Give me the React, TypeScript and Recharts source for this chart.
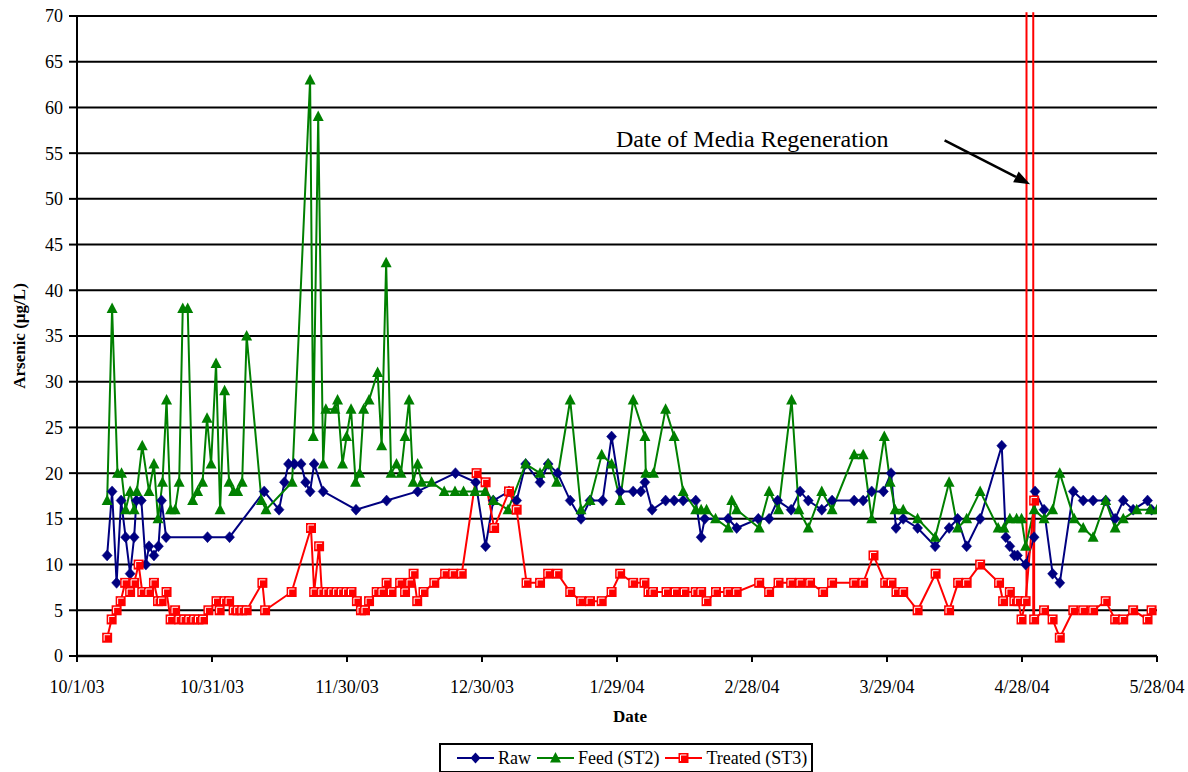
import React from 'react';
import { LineChart, Line, XAxis, YAxis, CartesianGrid, ReferenceLine } from 'recharts';

const tickDays = [0, 30, 60, 90, 120, 150, 180, 210, 240];
const tickLabels = ['10/1/03', '10/31/03', '11/30/03', '12/30/03', '1/29/04', '2/28/04', '3/29/04', '4/28/04', '5/28/04'];
const yTicks = [0, 5, 10, 15, 20, 25, 30, 35, 40, 45, 50, 55, 60, 65, 70];

const rawDays = [6.7, 7.8, 8.8, 9.8, 10.8, 11.8, 12.7, 13.2, 14.3, 15.3, 16.0, 17.1, 18.1, 18.8, 19.8, 29.0, 33.9, 41.6, 44.9, 46.1, 47.0, 48.3, 49.8, 50.8, 51.8, 52.7, 54.7, 62.0, 68.8, 75.7, 84.1, 88.6, 90.8, 92.5, 96.0, 97.7, 99.7, 102.9, 104.7, 106.8, 109.6, 112.0, 114.0, 116.8, 118.8, 120.7, 123.6, 125.3, 126.2, 127.8, 130.8, 132.7, 134.7, 137.5, 138.7, 139.5, 144.7, 146.6, 151.4, 153.8, 155.7, 158.7, 160.7, 162.5, 165.5, 167.8, 172.7, 174.7, 176.6, 179.2, 180.9, 182.0, 183.6, 186.8, 190.7, 193.8, 195.7, 197.7, 200.7, 205.5, 206.4, 207.3, 208.3, 209.0, 210.8, 212.7, 212.9, 214.9, 216.8, 218.4, 221.4, 223.6, 225.8, 228.6, 230.7, 232.5, 234.7, 237.9, 238.8];
const rawValues = [11, 18, 8, 17, 13, 9, 13, 17, 17, 10, 12, 11, 12, 17, 13, 13, 13, 18, 16, 19, 21, 21, 21, 19, 18, 21, 18, 16, 17, 18, 20, 19, 12, 17, 18, 17, 21, 19, 21, 20, 17, 15, 17, 17, 24, 18, 18, 18, 19, 16, 17, 17, 17, 17, 13, 15, 15, 14, 15, 15, 17, 16, 18, 17, 16, 17, 17, 17, 18, 18, 20, 14, 15, 14, 12, 14, 15, 12, 15, 23, 13, 12, 11, 11, 10, 13, 18, 16, 9, 8, 18, 17, 17, 17, 15, 17, 16, 17, 16];

const feedDays = [6.7, 7.8, 9.0, 9.9, 10.8, 11.8, 12.7, 13.3, 14.5, 16.0, 17.1, 18.0, 19.0, 19.9, 20.8, 21.8, 22.7, 23.5, 24.6, 25.7, 26.8, 27.9, 28.9, 29.8, 30.9, 31.8, 32.8, 33.8, 34.8, 35.7, 36.7, 37.7, 41.0, 42.0, 47.8, 51.8, 52.5, 53.6, 54.7, 55.3, 57.3, 57.9, 59.0, 59.9, 60.9, 61.9, 62.8, 63.7, 64.9, 66.8, 67.7, 68.7, 69.8, 71.0, 72.0, 72.9, 73.8, 74.7, 75.7, 76.6, 78.8, 81.6, 84.0, 85.9, 88.4, 90.7, 92.5, 95.8, 99.7, 102.9, 104.7, 106.6, 109.6, 112.0, 114.0, 116.6, 118.8, 120.7, 123.6, 126.2, 126.4, 128.1, 130.8, 132.7, 134.7, 137.5, 138.7, 139.9, 141.9, 144.7, 145.5, 146.6, 151.6, 153.8, 155.9, 158.8, 160.4, 162.5, 165.5, 167.8, 172.7, 174.7, 176.6, 179.4, 180.7, 181.8, 183.6, 186.8, 190.7, 193.8, 195.7, 197.7, 200.7, 204.7, 206.0, 207.3, 208.8, 209.9, 210.8, 212.7, 214.9, 216.8, 218.4, 221.6, 223.6, 225.8, 228.6, 230.7, 232.5, 235.5, 238.5, 240.0];
const feedValues = [17, 38, 20, 20, 16, 18, 16, 18, 23, 18, 21, 15, 19, 28, 16, 16, 19, 38, 38, 17, 18, 19, 26, 21, 32, 16, 29, 19, 18, 18, 19, 35, 17, 16, 19, 63, 24, 59, 21, 27, 27, 28, 21, 24, 27, 19, 20, 27, 28, 31, 23, 43, 20, 21, 20, 24, 28, 19, 21, 19, 19, 18, 18, 18, 18, 18, 17, 16, 21, 20, 21, 19, 28, 16, 17, 22, 21, 17, 28, 24, 20, 20, 27, 24, 18, 16, 16, 16, 15, 14, 17, 16, 14, 18, 16, 28, 16, 14, 18, 16, 22, 22, 15, 24, 19, 16, 16, 15, 13, 19, 14, 15, 18, 14, 14, 15, 15, 15, 12, 16, 15, 16, 20, 15, 14, 13, 17, 14, 15, 16, 16, 16];

const treatedDays = [6.7, 7.7, 8.8, 9.7, 10.7, 11.8, 12.7, 13.7, 14.5, 16.0, 17.1, 18.0, 18.8, 19.9, 20.8, 21.8, 22.7, 23.8, 24.9, 26.0, 27.0, 28.0, 29.2, 31.0, 31.7, 32.8, 33.8, 34.8, 35.7, 36.7, 37.7, 41.2, 41.8, 47.7, 52.0, 52.7, 53.8, 54.4, 55.5, 56.6, 57.7, 58.8, 59.9, 61.0, 62.2, 63.1, 64.0, 64.9, 66.6, 67.8, 68.8, 69.9, 71.8, 72.9, 74.0, 74.8, 75.6, 77.0, 79.4, 81.8, 83.6, 85.5, 88.8, 90.8, 92.7, 96.0, 97.7, 99.9, 102.9, 104.7, 106.8, 109.6, 112.0, 114.0, 116.6, 118.8, 120.7, 123.6, 126.1, 127.0, 128.0, 131.0, 133.0, 135.0, 137.5, 138.7, 139.9, 142.0, 144.7, 146.6, 151.6, 153.8, 155.9, 158.7, 160.7, 162.9, 165.8, 167.8, 172.7, 174.7, 177.0, 179.6, 181.0, 182.1, 183.6, 186.8, 190.8, 193.8, 195.8, 197.7, 200.7, 204.9, 205.8, 207.3, 208.3, 209.2, 209.9, 210.8, 212.7, 212.7, 214.9, 216.8, 218.4, 221.4, 223.6, 225.8, 228.6, 230.7, 232.5, 234.7, 237.9, 238.8];
const treatedValues = [2, 4, 5, 6, 8, 7, 8, 10, 7, 7, 8, 6, 6, 7, 4, 5, 4, 4, 4, 4, 4, 4, 5, 6, 5, 6, 6, 5, 5, 5, 5, 8, 5, 7, 14, 7, 12, 7, 7, 7, 7, 7, 7, 7, 6, 5, 5, 6, 7, 7, 8, 7, 8, 7, 8, 9, 6, 7, 8, 9, 9, 9, 20, 19, 14, 18, 16, 8, 8, 9, 9, 7, 6, 6, 6, 7, 9, 8, 8, 7, 7, 7, 7, 7, 7, 7, 6, 7, 7, 7, 8, 7, 8, 8, 8, 8, 7, 8, 8, 8, 11, 8, 8, 7, 7, 5, 9, 5, 8, 8, 10, 8, 6, 7, 6, 6, 4, 6, 17, 4, 5, 4, 2, 5, 5, 5, 6, 4, 4, 5, 4, 5];

const regenDays = [211.0, 212.5];
const regenBottom = [6, 4];
const regenTop = 70.4;
const arrowStart = { x: 192.8, y: 56.4 };
const arrowEnd = { x: 211.8, y: 51.6 };
const annotationText = 'Date of Media Regeneration';

const toSeries = (days: number[], vals: number[]) => days.map((d, i) => ({ d, v: vals[i] }));
const rawData = toSeries(rawDays, rawValues);
const feedData = toSeries(feedDays, feedValues);
const treatedData = toSeries(treatedDays, treatedValues);

const NAVY = '#000080';
const GREEN = '#008000';
const RED = '#FF0000';
const FONT = 'Liberation Serif';

const Diamond = (p: any) => {
  const { cx, cy } = p;
  if (cx == null || cy == null) return null;
  return <path key={`r${p.index}`} d={`M${cx},${cy - 5.5}L${cx + 5},${cy}L${cx},${cy + 5.5}L${cx - 5},${cy}Z`} fill={NAVY} stroke={NAVY} strokeWidth={0.5} />;
};
const Triangle = (p: any) => {
  const { cx, cy } = p;
  if (cx == null || cy == null) return null;
  return <path key={`f${p.index}`} d={`M${cx},${cy - 6}L${cx + 5.5},${cy + 4.5}L${cx - 5.5},${cy + 4.5}Z`} fill={GREEN} />;
};
const Square = (p: any) => {
  const { cx, cy } = p;
  if (cx == null || cy == null) return null;
  return (
    <g key={`t${p.index}`}>
      <rect x={cx - 5} y={cy - 5} width={10} height={10} fill={RED} />
      <path d={`M${cx - 3},${cy + 3}V${cy - 3}H${cx + 3}`} fill="none" stroke="#fff" strokeWidth={1} />
    </g>
  );
};

const ArrowShape = (p: any) => {
  const { x1, y1, x2, y2 } = p;
  if (x1 == null) return null;
  const dx = x2 - x1, dy = y2 - y1;
  const len = Math.sqrt(dx * dx + dy * dy);
  const ux = dx / len, uy = dy / len;
  const hl = 16, hw = 6;
  const bx = x2 - ux * hl, by = y2 - uy * hl;
  return (
    <g>
      <line x1={x1} y1={y1} x2={bx} y2={by} stroke="#000" strokeWidth={2.5} />
      <path d={`M${x2},${y2}L${bx - uy * hw},${by + ux * hw}L${bx + uy * hw},${by - ux * hw}Z`} fill="#000" />
      <text x={x1 - 56} y={y1 + 7} textAnchor="end" fontSize={24} fontFamily={FONT} fill="#000" style={{ fontFamily: FONT }}>{annotationText}</text>
    </g>
  );
};

const XTick = (p: any) => {
  const { x, y, payload } = p;
  const label = tickLabels[tickDays.indexOf(payload.value)] ?? '';
  return (
    <text x={x} y={y} dy="0.71em" textAnchor="middle" fontSize={18} fontFamily={FONT} fill="#000" style={{ fontFamily: FONT }}>{label}</text>
  );
};
const YTick = (p: any) => {
  const { x, y, payload } = p;
  return (
    <text x={x} y={y} dy="0.355em" textAnchor="end" fontSize={18} fontFamily={FONT} fill="#000" style={{ fontFamily: FONT }}>{payload.value}</text>
  );
};

const legendItems = [
  { name: 'Raw', color: NAVY, marker: 'diamond' },
  { name: 'Feed (ST2)', color: GREEN, marker: 'triangle' },
  { name: 'Treated (ST3)', color: RED, marker: 'square' },
];

const LegendIcon = ({ color, marker }: { color: string; marker: string }) => (
  <svg width={37} height={14} style={{ display: 'block' }}>
    <line x1={0} y1={7} x2={37} y2={7} stroke={color} strokeWidth={2} />
    {marker === 'diamond' && <path d="M18.5,1.5L23.5,7L18.5,12.5L13.5,7Z" fill={color} />}
    {marker === 'triangle' && <path d="M18.5,1L24,11.5L13,11.5Z" fill={color} />}
    {marker === 'square' && (
      <g>
        <rect x={13.5} y={2} width={10} height={10} fill={color} />
        <path d="M15.5,10V4H21.5" fill="none" stroke="#fff" strokeWidth={1} />
      </g>
    )}
  </svg>
);

export default function App() {
  return (
    <div style={{ position: 'absolute', left: 0, top: 0, width: 1188, height: 772, background: '#fff', fontFamily: FONT }}>
      <LineChart width={1188} height={772} data={rawData} margin={{ top: 16, right: 31, bottom: 46, left: 17 }}>
        <CartesianGrid vertical={false} stroke="#000" strokeWidth={2} />
        <XAxis
          dataKey="d"
          type="number"
          domain={[0, 240]}
          ticks={tickDays}
          height={70}
          interval={0}
          tickSize={6}
          tickMargin={18}
          axisLine={{ stroke: '#000', strokeWidth: 2.5 }}
          tickLine={{ stroke: '#000', strokeWidth: 2 }}
          tick={XTick}
          allowDataOverflow
          label={{
            position: 'insideBottom',
            content: (lp: any) => {
              const vb = lp.viewBox || {};
              return (
                <text x={vb.x + vb.width / 2 + 13} y={vb.y + 66} textAnchor="middle" fontSize={17} fontWeight="bold" fontFamily={FONT} fill="#000" style={{ fontFamily: FONT }}>Date</text>
              );
            },
          }}
        />
        <YAxis
          type="number"
          domain={[0, 70]}
          ticks={yTicks}
          interval={0}
          width={60}
          allowDataOverflow
          tickSize={8}
          tickMargin={6}
          axisLine={{ stroke: '#000', strokeWidth: 2 }}
          tickLine={{ stroke: '#000', strokeWidth: 2 }}
          tick={YTick}
          label={{
            position: 'insideLeft',
            content: (lp: any) => {
              const vb = lp.viewBox || {};
              const cx = vb.x + 2;
              const cy = vb.y + vb.height / 2;
              return (
                <text x={cx} y={cy} transform={`rotate(-90 ${cx} ${cy})`} textAnchor="middle" dominantBaseline="central" fontSize={17} fontWeight="bold" fontFamily={FONT} fill="#000" style={{ fontFamily: FONT }}>Arsenic (µg/L)</text>
              );
            },
          }}
        />
        {regenDays.map((d, i) => (
          <ReferenceLine key={`rg${i}`} segment={[{ x: d, y: regenBottom[i] }, { x: d, y: regenTop }]} stroke={RED} strokeWidth={2} ifOverflow="visible" />
        ))}
        <Line data={rawData} dataKey="v" stroke={NAVY} strokeWidth={2} dot={Diamond} activeDot={false} isAnimationActive={false} />
        <Line data={feedData} dataKey="v" stroke={GREEN} strokeWidth={2} dot={Triangle} activeDot={false} isAnimationActive={false} />
        <Line data={treatedData} dataKey="v" stroke={RED} strokeWidth={2} dot={Square} activeDot={false} isAnimationActive={false} />
        <ReferenceLine segment={[arrowStart, arrowEnd]} ifOverflow="visible" shape={ArrowShape} />
      </LineChart>
      <div style={{ position: 'absolute', left: 439, top: 743, width: 370, height: 26, border: '2px solid #000', display: 'flex', alignItems: 'center', fontSize: 18, color: '#000', background: '#fff', fontFamily: FONT }}>
        {legendItems.map((it, i) => (
          <div key={it.name} style={{ display: 'flex', alignItems: 'center', marginLeft: i === 0 ? 16 : 6 }}>
            <LegendIcon color={it.color} marker={it.marker} />
            <span style={{ marginLeft: 4, lineHeight: '20px', fontFamily: FONT }}>{it.name}</span>
          </div>
        ))}
      </div>
    </div>
  );
}
